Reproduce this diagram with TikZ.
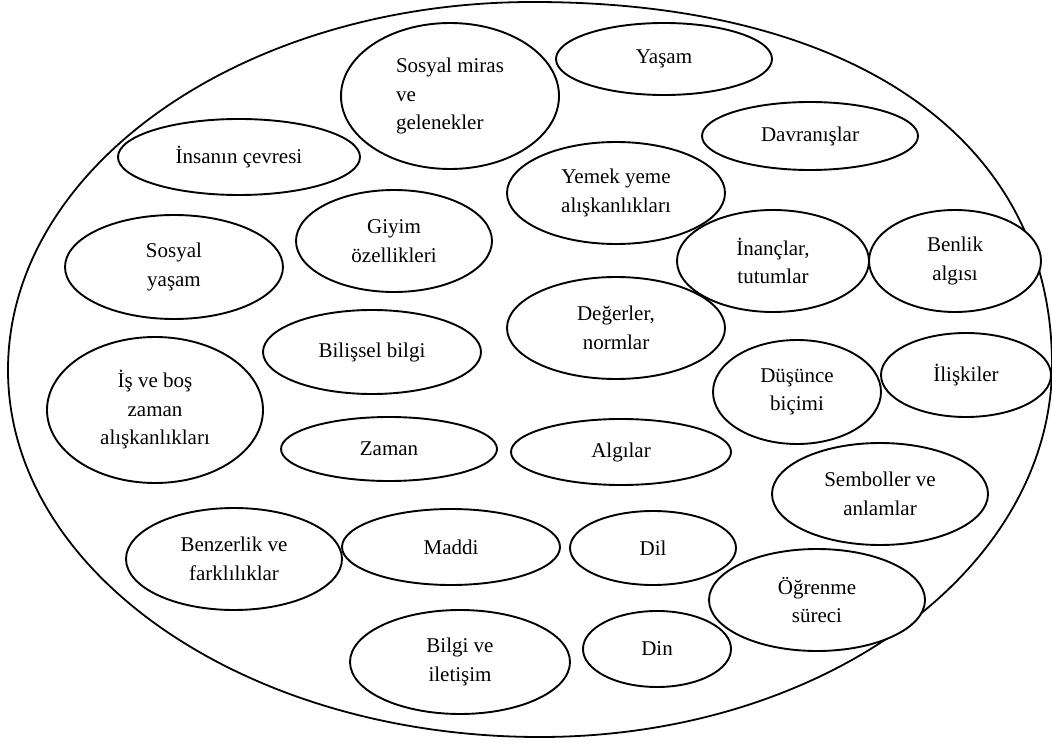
\documentclass[tikz,border=0pt]{standalone}
\usepackage{fontspec}
\setmainfont{Liberation Serif}
\usetikzlibrary{shapes.geometric}
\tikzset{
  outerline/.style={draw=black, line width=1.8pt},
  bub/.style={ellipse, draw=black, fill=white, line width=1.9pt, inner sep=0pt,
    align=center, font=\fontsize{21}{28.5}\selectfont},
}
\begin{document}
\begin{tikzpicture}[x=1pt,y=-1pt]
\useasboundingbox (0,0) rectangle (1052,743);
% outer boundary
\draw[outerline] (533,2) .. controls (855,2) and (1052,140) .. (1052,365)
  .. controls (1052,570) and (823,737) .. (540,737)
  .. controls (246,737) and (8,573) .. (8,370)
  .. controls (8,167) and (243,2) .. (533,2) -- cycle;
% inner ellipses
\node[bub, align=left, minimum width=218pt, minimum height=146pt] (sm) at (450,96) {Sosyal miras\\ve\\gelenekler};
\node[bub, minimum width=216pt, minimum height=72pt] (ya) at (664,59) {Yaşam};
\node[bub, minimum width=216pt, minimum height=68pt] (dv) at (810,136) {Davranışlar};
\node[bub, minimum width=242pt, minimum height=76pt] (ic) at (239,157) {İnsanın çevresi};
\node[bub, minimum width=218pt, minimum height=102pt] (ye) at (616,193) {Yemek yeme\\alışkanlıkları};
\node[bub, minimum width=196pt, minimum height=102pt] (gi) at (394,241) {Giyim\\özellikleri};
\node[bub, minimum width=218pt, minimum height=104pt] (sy) at (174,267) {Sosyal\\yaşam};
\node[bub, minimum width=192pt, minimum height=102pt] (in) at (773,261) {İnançlar,\\tutumlar};
\node[bub, minimum width=172pt, minimum height=102pt] (be) at (955,261) {Benlik\\algısı};
\node[bub, minimum width=218pt, minimum height=102pt] (de) at (616,328) {Değerler,\\normlar};
\node[bub, minimum width=218pt, minimum height=84pt] (bb) at (372,352) {Bilişsel bilgi};
\node[bub, minimum width=216pt, minimum height=146pt] (is) at (155,410) {İş ve boş\\zaman\\alışkanlıkları};
\node[bub, minimum width=168pt, minimum height=104pt] (du) at (797,392) {Düşünce\\biçimi};
\node[bub, minimum width=170pt, minimum height=84pt] (il) at (966,375) {İlişkiler};
\node[bub, minimum width=216pt, minimum height=64pt] (za) at (389,449) {Zaman};
\node[bub, minimum width=220pt, minimum height=66pt] (al) at (621,452) {Algılar};
\node[bub, minimum width=216pt, minimum height=102pt] (se) at (880,494) {Semboller ve\\anlamlar};
\node[bub, minimum width=216pt, minimum height=102pt] (bf) at (234,559) {Benzerlik ve\\farklılıklar};
\node[bub, minimum width=218pt, minimum height=76pt] (ma) at (451,547) {Maddi};
\node[bub, minimum width=166pt, minimum height=74pt] (di) at (653,548) {Dil};
\node[bub, minimum width=216pt, minimum height=102pt] (og) at (817,600) {Öğrenme\\süreci};
\node[bub, minimum width=220pt, minimum height=104pt] (bi) at (460,662) {Bilgi ve\\iletişim};
\node[bub, minimum width=148pt, minimum height=76pt] (dn) at (657,649) {Din};
\end{tikzpicture}
\end{document}
